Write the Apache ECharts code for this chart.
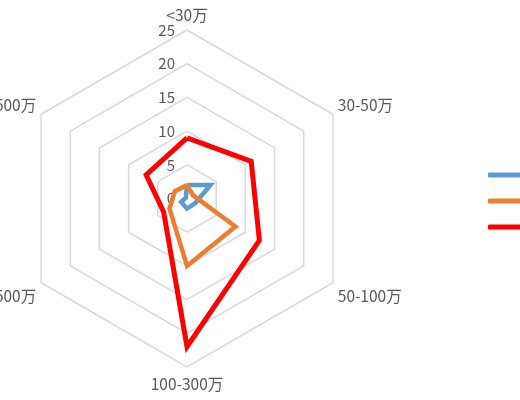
<!DOCTYPE html>
<html>
<head>
<meta charset="utf-8">
<script src="https://cdn.jsdelivr.net/npm/echarts@6/dist/echarts.min.js"></script>
<style>
html,body{margin:0;padding:0;background:#fff;}
#chart{width:520px;height:400px;}
</style>
</head>
<body>
<div id="chart"></div>
<script>
var categories = ['<30万', '30-50万', '50-100万', '100-300万', '300-500万', '>500万'];
var seriesNames = ['系列1', '系列2', '系列3'];
var blueValues = [2, 4, 1.4, 1.5, 1, 0.2];
var orangeValues = [2, 1, 8.3, 10, 3, 2.1];
var redValues = [9, 11, 12.4, 22, 4, 7];
var axisMax = 25;
var axisTicks = [0, 5, 10, 15, 20, 25];

var colors = ['#5B9BD5', '#ED7D31', '#FF0000'];
var font = '"Noto Sans CJK SC", "Noto Sans", sans-serif';

// ECharts radar runs counter-clockwise; reorder so categories go clockwise from top
var order = [0];
for (var k = categories.length - 1; k >= 1; k--) order.push(k);

var chart = echarts.init(document.getElementById('chart'));
var indicators = order.map(function (i) {
  var ind = { name: categories[i], min: 0, max: axisMax };
  if (i === 0) {
    ind.axisLabel = { show: true, color: '#595959', fontSize: 15, fontFamily: font, margin: 12,
      formatter: function (v) { return axisTicks.indexOf(v) >= 0 ? String(v) : ''; } };
  }
  return ind;
});
var namePos = {};
namePos[categories[0]] = 'top';
namePos[categories[1]] = 'upR';
namePos[categories[5]] = 'upL';
namePos[categories[2]] = 'downR';
namePos[categories[4]] = 'downL';
namePos[categories[3]] = 'bottom';

var txt = { color: '#595959', fontSize: 15.5, fontFamily: font };
var valuesList = [blueValues, orangeValues, redValues];
chart.setOption({
  animation: false,
  color: colors,
  legend: {
    orient: 'vertical',
    left: 483,
    top: 162,
    icon: 'roundRect',
    itemWidth: 40,
    itemHeight: 5,
    itemGap: 10,
    textStyle: { color: '#595959', fontSize: 14, lineHeight: 16, fontFamily: font },
    data: seriesNames
  },
  radar: {
    center: [187, 198.5],
    radius: 168.5,
    startAngle: 90,
    splitNumber: 5,
    shape: 'polygon',
    indicator: indicators,
    nameGap: 1,
    axisName: {
      color: '#595959', fontSize: 15.5, fontFamily: font,
      formatter: function (name) { return '{' + namePos[name] + '|' + name + '}'; },
      rich: {
        top: Object.assign({ padding: [0, 0, 0, 0] }, txt),
        upR: Object.assign({ padding: [0, 0, 17, 4] }, txt),
        upL: Object.assign({ padding: [0, 4, 17, 0] }, txt),
        downR: Object.assign({ padding: [25, 0, 0, 4] }, txt),
        downL: Object.assign({ padding: [25, 4, 0, 0] }, txt),
        bottom: Object.assign({ padding: [8, 0, 0, 0] }, txt)
      }
    },
    axisLine: { show: false },
    axisTick: { show: false },
    axisLabel: { show: false },
    splitLine: { lineStyle: { color: '#D9D9D9', width: 1.5 } },
    splitArea: { show: false }
  },
  series: [{
    type: 'radar',
    symbol: 'none',
    data: valuesList.map(function (vals, i) {
      return {
        name: seriesNames[i],
        value: order.map(function (j) { return vals[j]; }),
        lineStyle: { color: colors[i], width: i === 2 ? 5 : 4.5, join: 'miter' },
        itemStyle: { color: colors[i] }
      };
    })
  }]
});
</script>
</body>
</html>
